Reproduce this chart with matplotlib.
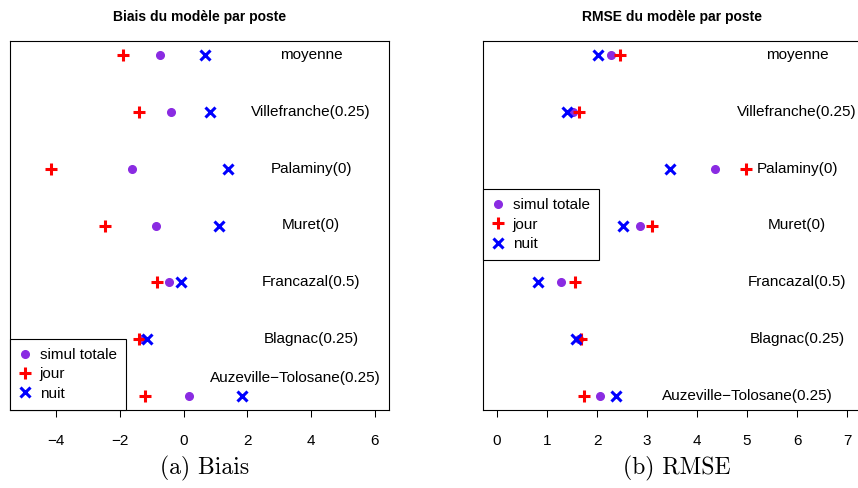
import matplotlib as mpl
import matplotlib.pyplot as plt
from matplotlib.lines import Line2D

mpl.rcParams['font.family'] = ['Liberation Sans', 'DejaVu Sans']
mpl.rcParams['font.size'] = 11

# stations, from bottom to top
postes = ['Auzeville\u2212Tolosane(0.25)', 'Blagnac(0.25)', 'Francazal(0.5)',
          'Muret(0)', 'Palaminy(0)', 'Villefranche(0.25)', 'moyenne']

biais_simul = [0.18, -1.30, -0.47, -0.85, -1.62, -0.38, -0.74]
biais_jour = [-1.20, -1.39, -0.84, -2.47, -4.15, -1.39, -1.91]
biais_nuit = [1.84, -1.13, -0.09, 1.10, 1.40, 0.82, 0.66]

rmse_simul = [2.05, 1.64, 1.27, 2.85, 4.35, 1.52, 2.28]
rmse_jour = [1.74, 1.67, 1.56, 3.10, 4.97, 1.64, 2.45]
rmse_nuit = [2.37, 1.57, 0.81, 2.52, 3.46, 1.39, 2.02]

violet = '#8a2be2'

W, H = 858, 488
fig = plt.figure(figsize=(W / 100, H / 100), dpi=100)


def px_axes(x0, x1, y0, y1):
    return fig.add_axes([x0 / W, 1 - y1 / H, (x1 - x0) / W, (y1 - y0) / H])


def panneau(ax, simul, jour, nuit, xlim, xticks, lab_x, auz_xy):
    y = list(range(1, len(postes) + 1))
    ax.plot(simul, y, 'o', color=violet, ms=5.5, ls='none')
    ax.plot(jour, y, '+', color='red', ms=9, mew=2.2, ls='none')
    ax.plot(nuit, y, 'x', color='blue', ms=7, mew=2.2, ls='none')
    pad = (xlim[1] - xlim[0]) * 0.04
    ax.set_xlim(xlim[0] - pad, xlim[1] + pad)
    ax.set_ylim(1 - 6 * 0.04, 7 + 6 * 0.04)
    ax.set_yticks([])
    ax.set_xticks(xticks)
    ax.tick_params(axis='x', length=5, width=0.75, pad=12, labelsize=11)
    for s in ax.spines.values():
        s.set_linewidth(0.8)
    for i, nom in enumerate(postes):
        if i == 0:
            ax.text(auz_xy[0], auz_xy[1], nom, ha='center', va='center', fontsize=11)
        else:
            ax.text(lab_x, i + 1, nom, ha='center', va='center', fontsize=11)


def legende(ax, **kw):
    h = [Line2D([], [], marker='o', color=violet, ls='none', ms=5.5),
         Line2D([], [], marker='+', color='red', ls='none', ms=9, mew=2.2),
         Line2D([], [], marker='x', color='blue', ls='none', ms=7, mew=2.2)]
    leg = ax.legend(h, ['simul totale', 'jour', 'nuit'], fancybox=False,
                    framealpha=1, edgecolor='black', handlelength=0.8,
                    handletextpad=0.55, labelspacing=0.35, borderpad=0.6,
                    borderaxespad=0, fontsize=11, **kw)
    leg.get_frame().set_linewidth(0.8)


ax1 = px_axes(10, 389, 41, 410)
panneau(ax1, biais_simul, biais_jour, biais_nuit, (-5, 6), range(-4, 7, 2),
        4.0, (3.5, 1.32))
legende(ax1, loc='lower left')

ax2 = px_axes(483, 861, 41, 410)
panneau(ax2, rmse_simul, rmse_jour, rmse_nuit, (0, 7), range(0, 8),
        6.0, (5.0, 1.0))
legende(ax2, loc='upper left', bbox_to_anchor=(0, 1 - (189 - 41) / 369))

fig.text(200 / W, 1 - 17 / H, 'Biais du modèle par poste', ha='center',
         va='center', fontweight='bold', fontsize=10)
fig.text(672 / W, 1 - 17 / H, 'RMSE du modèle par poste', ha='center',
         va='center', fontweight='bold', fontsize=10)
fig.text(205 / W, 1 - 468 / H, '(a) Biais', ha='center', va='center',
         family='cmr10', fontsize=17)
fig.text(677 / W, 1 - 468 / H, '(b) RMSE', ha='center', va='center',
         family='cmr10', fontsize=17)

fig.savefig('out.png', dpi=100)
